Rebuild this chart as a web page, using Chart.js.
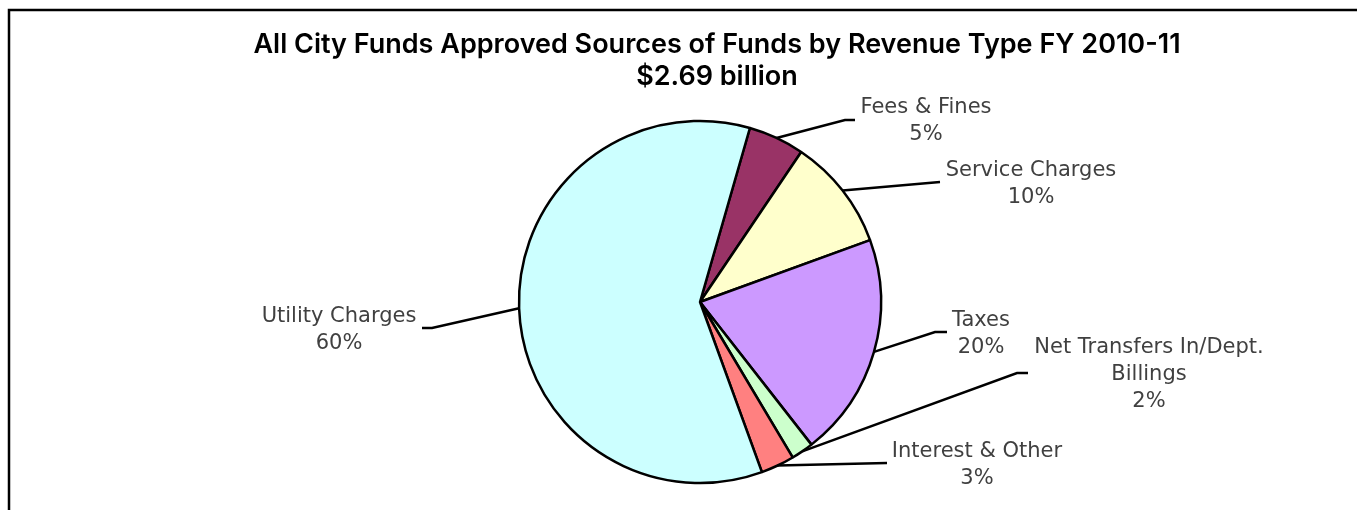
<!DOCTYPE html>
<html>
<head>
<meta charset="utf-8">
<title>All City Funds Approved Sources of Funds by Revenue Type FY 2010-11</title>
<script src="https://cdn.jsdelivr.net/npm/chart.js@4/dist/chart.umd.min.js"></script>
<style>
  html, body { margin: 0; padding: 0; background: #ffffff; }
  #wrap { position: relative; width: 1357px; height: 510px; }
</style>
</head>
<body>
<div id="wrap"><canvas id="pie" width="1357" height="510"></canvas></div>
<script>
// Revenue categories (multi-line entries wrap the callout text)
const categories = [
  'Fees & Fines',
  'Service Charges',
  'Taxes',
  ['Net Transfers In/Dept.', 'Billings'],
  'Interest & Other',
  'Utility Charges'
];
// Share of the approved $2.69 billion, in percent
const shares = [5, 10, 20, 2, 3, 60];
const sliceColors = ['#993366', '#FFFFCC', '#CC99FF', '#CCFFCC', '#FF8080', '#CCFFFF'];
const titleLines = ['All City Funds Approved Sources of Funds by Revenue Type FY 2010-11', '$2.69 billion'];

// Callout placement, in pixels relative to the pie centre:
// elbow/end of the leader line and first-line baseline + centre x of the text.
const calloutPlacement = [
  { elbow: [145, -182], end: [155, -182], text: [226, -189] },
  { elbow: [240, -120], end: [240, -120], text: [331, -126] },
  { elbow: [235, 30],   end: [247, 30],   text: [281, 24] },
  { elbow: [317, 71],   end: [328, 71],   text: [449, 51] },
  { elbow: [187, 161],  end: [187, 161],  text: [277, 155] },
  { elbow: [-268, 26],  end: [-278, 26],  text: [-361, 20] }
];

// Frame, title and leader-line callouts
const decorations = {
  id: 'decorations',
  afterDraw(chart) {
    const ctx = chart.ctx;
    ctx.save();

    // chart frame (top and left edges visible)
    ctx.strokeStyle = '#000000';
    ctx.lineWidth = 2.5;
    ctx.beginPath();
    ctx.moveTo(9, 520);
    ctx.lineTo(9, 10);
    ctx.lineTo(1370, 10);
    ctx.stroke();

    // title
    ctx.fillStyle = '#000000';
    ctx.font = '600 27px Inter, "Open Sans", sans-serif';
    ctx.textAlign = 'center';
    ctx.textBaseline = 'alphabetic';
    ctx.fillText(titleLines[0], 717, 53);
    ctx.fillText(titleLines[1], 717, 85);

    // callouts
    const meta = chart.getDatasetMeta(0);
    const values = chart.data.datasets[0].data;
    const total = values.reduce((a, b) => a + b, 0);
    ctx.font = '21px "DejaVu Sans", Verdana, sans-serif';
    meta.data.forEach((arc, i) => {
      const p = arc.getProps(['x', 'y', 'startAngle', 'endAngle', 'outerRadius'], true);
      const mid = (p.startAngle + p.endAngle) / 2;
      const ax = p.x + Math.cos(mid) * p.outerRadius;
      const ay = p.y + Math.sin(mid) * p.outerRadius;
      const pl = calloutPlacement[i];
      ctx.strokeStyle = '#000000';
      ctx.lineWidth = 2.5;
      ctx.beginPath();
      ctx.moveTo(ax, ay);
      ctx.lineTo(p.x + pl.elbow[0], p.y + pl.elbow[1]);
      ctx.lineTo(p.x + pl.end[0], p.y + pl.end[1]);
      ctx.stroke();

      const name = chart.data.labels[i];
      const lines = (Array.isArray(name) ? name.slice() : [name]);
      lines.push(Math.round(values[i] / total * 100) + '%');
      ctx.fillStyle = '#404040';
      ctx.textAlign = 'center';
      lines.forEach((ln, k) => {
        ctx.fillText(ln, p.x + pl.text[0], p.y + pl.text[1] + k * 27);
      });
    });
    ctx.restore();
  }
};

new Chart(document.getElementById('pie'), {
  type: 'pie',
  data: {
    labels: categories,
    datasets: [{
      data: shares,
      backgroundColor: sliceColors,
      borderColor: '#000000',
      borderWidth: 2.5,
      hoverOffset: 0
    }]
  },
  options: {
    responsive: false,
    animation: false,
    devicePixelRatio: 1,
    rotation: 16,
    radius: 181,
    layout: { padding: { left: 518, right: 475, top: 120, bottom: 26 } },
    plugins: {
      legend: { display: false },
      tooltip: { enabled: false },
      title: { display: false }
    }
  },
  plugins: [decorations]
});
</script>
</body>
</html>
